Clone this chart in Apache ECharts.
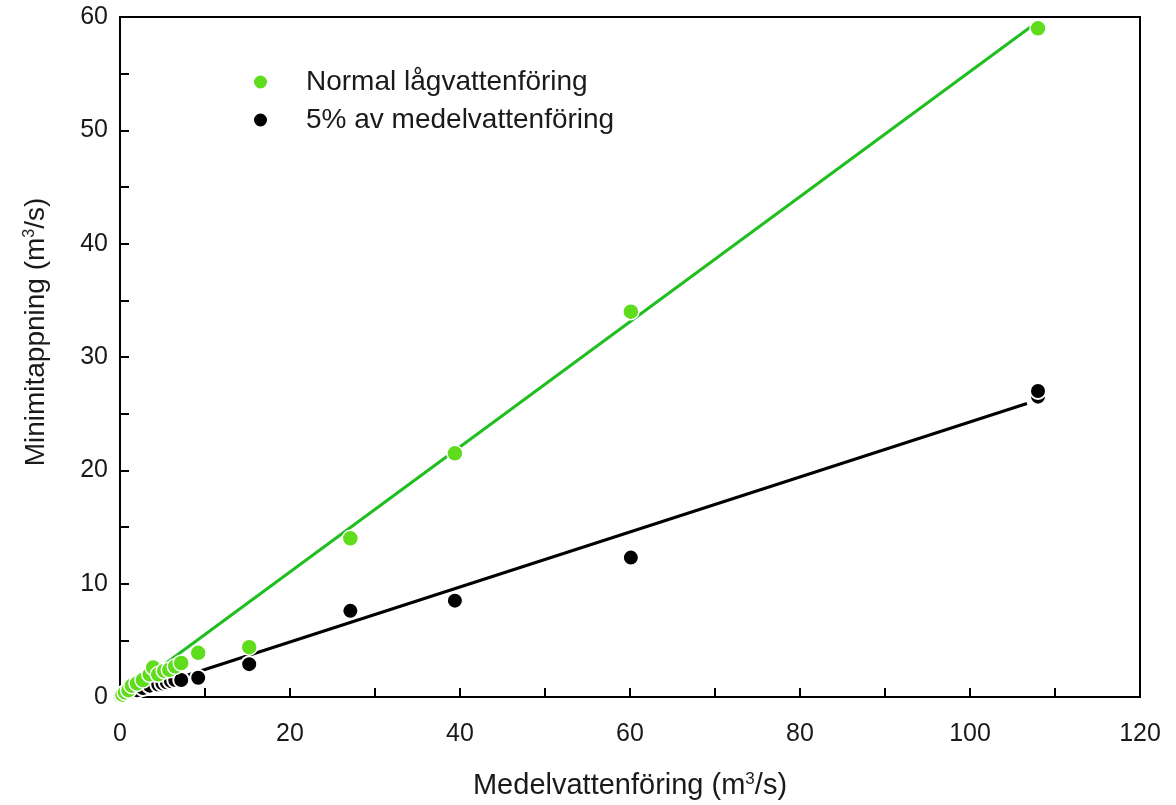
<!DOCTYPE html>
<html><head><meta charset="utf-8">
<script src="https://cdn.jsdelivr.net/npm/echarts@6/dist/echarts.min.js"></script>
<style>html,body{margin:0;padding:0;background:#fff}#c{width:1176px;height:805px}</style>
</head><body><div id="c"></div>
<script>
const xTicks = [0,20,40,60,80,100,120];
const yTicks = [0,10,20,30,40,50,60];
const seriesNames = ['Normal lågvattenföring','5% av medelvattenföring'];
const greenPoints = [[0.3,0.2],[0.6,0.4],[1.0,0.6],[1.4,1.0],[2.0,1.2],[2.7,1.5],[3.5,2.0],[3.9,2.6],[4.5,2.0],[5.2,2.3],[5.8,2.4],[6.5,2.7],[7.2,3.0],[9.2,3.9],[15.2,4.4],[27.1,14.0],[39.4,21.5],[60.1,34.0],[108,59.0]];
const blackPoints = [[0.1,0.1],[0.3,0.2],[0.6,0.3],[1.0,0.4],[1.5,0.5],[2.0,0.6],[2.7,0.8],[3.5,1.0],[3.9,1.9],[4.5,1.1],[5.0,1.2],[5.5,1.3],[6.0,1.4],[6.5,1.5],[7.2,1.5],[9.2,1.7],[15.2,2.9],[27.1,7.6],[39.4,8.5],[60.1,12.3],[108,26.5],[108,27.0]];
const greenFit = [[0,0],[108,59.6]];
const blackFit = [[0,0],[106.7,25.9]];

const chart = echarts.init(document.getElementById('c'));
const font = 'Liberation Sans, Arial, sans-serif';
const txt = '#1a1a1a';
chart.setOption({
  animation:false,
  backgroundColor:'#fff',
  textStyle:{fontFamily:font},
  legend:{
    orient:'vertical', left:247, top:63, itemGap:10,
    itemWidth:15, itemHeight:15, icon:'circle',
    data:seriesNames,
    textStyle:{fontSize:28, color:txt, fontFamily:font, padding:[0,0,0,33]}
  },
  grid:{left:120, right:36, top:17, bottom:108, show:true, borderColor:'#000', borderWidth:2, backgroundColor:'transparent'},
  xAxis:{
    type:'value', min:0, max:120, interval:10,
    splitLine:{show:false},
    axisLine:{lineStyle:{color:'#000', width:2}},
    axisTick:{inside:true, length:9, lineStyle:{color:'#000', width:2}},
    axisLabel:{fontSize:25, color:txt, margin:25, formatter:v=>xTicks.includes(v)?String(v):''},
    name:'{a|Medelvattenföring (m}{s|3}{a|/s)}', nameLocation:'middle', nameGap:74,
    nameTextStyle:{rich:{a:{fontSize:29,color:txt,fontFamily:font},s:{fontSize:17,color:txt,fontFamily:font,verticalAlign:'top',padding:[0,0,12,0]}}}
  },
  yAxis:{
    type:'value', min:0, max:60, interval:5,
    splitLine:{show:false},
    axisLine:{lineStyle:{color:'#000', width:2}},
    axisTick:{inside:true, length:9, lineStyle:{color:'#000', width:2}},
    axisLabel:{fontSize:25, color:txt, margin:12, formatter:v=>yTicks.includes(v)?String(v):''},
    name:'{a|Minimitappning (m}{s|3}{a|/s)}', nameLocation:'middle', nameGap:70, nameRotate:90,
    nameTextStyle:{padding:[0,0,0,50], rich:{a:{fontSize:28,color:txt,fontFamily:font},s:{fontSize:16,color:txt,fontFamily:font,verticalAlign:'top',padding:[0,0,12,0]}}}
  },
  series:[
    {type:'line', data:greenFit, symbol:'none', lineStyle:{color:'#1fbf1f', width:3}, silent:true, z:1},
    {type:'line', data:blackFit, symbol:'none', lineStyle:{color:'#000', width:3}, silent:true, z:1},
    {name:seriesNames[0], type:'scatter', data:greenPoints, symbolSize:16, itemStyle:{color:'#5fdc1c', borderColor:'#fff', borderWidth:1.5, opacity:1}, z:3},
    {name:seriesNames[1], type:'scatter', data:blackPoints, symbolSize:16, itemStyle:{color:'#000', borderColor:'#fff', borderWidth:2, opacity:1}, z:2}
  ]
});
</script></body></html>
